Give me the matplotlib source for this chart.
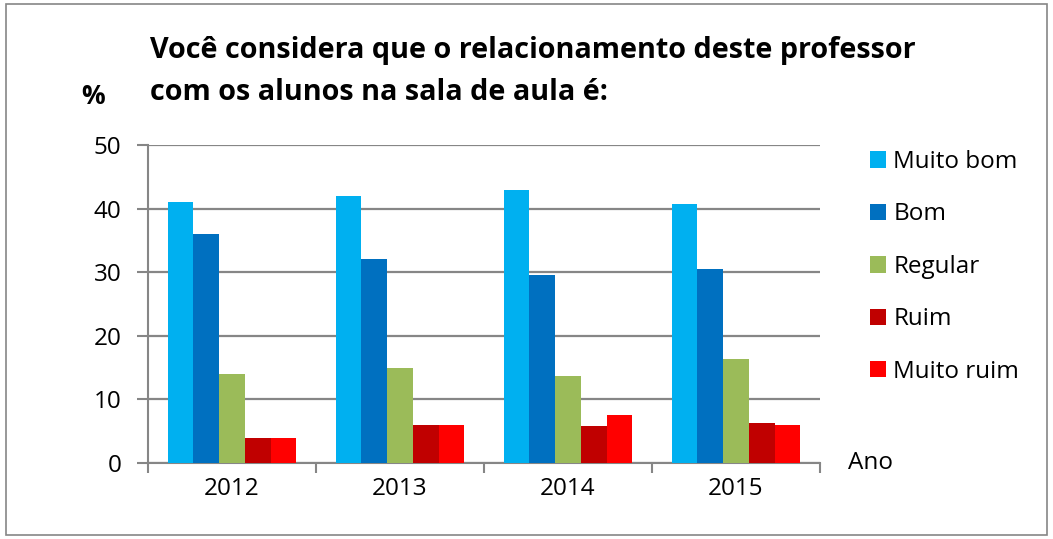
#!/usr/bin/env python3

import numpy as np
import matplotlib
matplotlib.use('Agg')
import matplotlib.pyplot as plt
from matplotlib.patches import Rectangle

years = ['2012', '2013', '2014', '2015']
series = ['Muito bom', 'Bom', 'Regular', 'Ruim', 'Muito ruim']
muito_bom = [41, 42, 43, 40.8]
bom = [36, 32, 29.6, 30.5]
regular = [14, 15, 13.7, 16.3]
ruim = [4, 6, 5.8, 6.3]
muito_ruim = [4, 6, 7.6, 5.9]
colors = ['#00B0F0', '#0070C0', '#9BBB59', '#C00000', '#FF0000']

plt.rcParams['font.family'] = ['Open Sans', 'DejaVu Sans']
GRAY = '#868686'
W, H = 1053, 539
FS = 17.5

fig = plt.figure(figsize=(W/100, H/100), dpi=100)
ax = fig.add_axes([148/W, 1-463/H, 672/W, 318/H])

x = np.arange(len(years))
bw = 0.153
values = [muito_bom, bom, regular, ruim, muito_ruim]
for i, (name, vals) in enumerate(zip(series, values)):
  ax.bar(x + (i - 2) * bw, vals, bw, color=colors[i], label=name, zorder=3)

ax.set_xlim(-0.5, len(years) - 0.5)
ax.set_ylim(0, 50)
ax.set_yticks(range(0, 51, 10))
ax.yaxis.grid(True, color=GRAY, linewidth=1.6, zorder=0)
ax.set_axisbelow(True)

ax.set_xticks(x)
ax.set_xticklabels(years)
ax.set_xticks(np.arange(-0.5, len(years)), minor=True)
ax.tick_params(axis='x', which='major', length=0, pad=10, labelsize=FS)
ax.tick_params(axis='x', which='minor', length=7, width=1.5, color=GRAY, direction='out')
ax.tick_params(axis='y', length=8, width=1.5, color=GRAY, pad=11, labelsize=FS)

for s in ['top', 'right']:
  ax.spines[s].set_visible(False)
for s in ['left', 'bottom']:
  ax.spines[s].set_color(GRAY)
  ax.spines[s].set_linewidth(1.5)

fig.text(150/W, 1-58/H, 'Você considera que o relacionamento deste professor',
         fontsize=20.7, fontweight='bold', va='baseline', ha='left')
fig.text(150/W, 1-100/H, 'com os alunos na sala de aula é:',
         fontsize=20.7, fontweight='bold', va='baseline', ha='left')
fig.text(93/W, 1-96/H, '%', fontsize=19, fontweight='bold', ha='center', va='center')
fig.text(848/W, 1-463/H, 'Ano', fontsize=FS, ha='left', va='center')

leg = fig.legend(loc='upper left', bbox_to_anchor=(870/W, 1-150/H), frameon=False,
                 fontsize=FS, borderpad=0, borderaxespad=0, handlelength=0.66,
                 handleheight=0.66, handletextpad=0.3, labelspacing=1.17)

fig.patches.append(Rectangle((6/W, 4/H), 1041/W, 531/H, transform=fig.transFigure,
                             fill=False, edgecolor=GRAY, linewidth=1.2))

fig.savefig('out.png', dpi=100)
